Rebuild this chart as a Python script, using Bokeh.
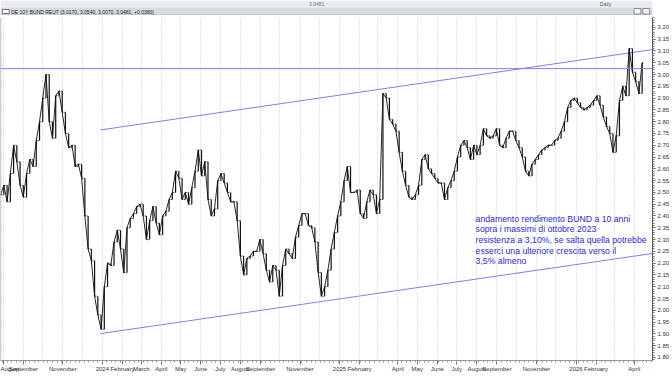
import numpy as np
import pandas as pd
from bokeh.plotting import figure
from bokeh.layouts import column
from bokeh.models import (FixedTicker, SingleIntervalTicker, PrintfTickFormatter,
                          Range1d, ColumnDataSource, Span)
from bokeh.core.properties import value
from bokeh.embed import file_html
from bokeh.resources import INLINE

# ---------------- data ----------------
series_name = "DE 10Y BUND REUT"
start_date = "2023-07-28"
step = "5D"
close = [
    2.49, 2.53, 2.46, 2.58, 2.70, 2.63, 2.53, 2.48, 2.58, 2.64,
    2.61, 2.72, 2.80, 2.90, 3.00, 2.80, 2.73, 2.91, 2.93, 2.84,
    2.75, 2.69, 2.70, 2.61, 2.62, 2.56, 2.40, 2.26, 2.21, 2.06,
    1.98, 1.92, 2.10, 2.20, 2.19, 2.29, 2.34, 2.26, 2.16, 2.35,
    2.39, 2.41, 2.44, 2.45, 2.40, 2.30, 2.38, 2.44, 2.37, 2.32,
    2.40, 2.42, 2.47, 2.50, 2.59, 2.56, 2.47, 2.50, 2.45, 2.52,
    2.59, 2.68, 2.57, 2.63, 2.47, 2.40, 2.43, 2.55, 2.58, 2.54,
    2.50, 2.46, 2.46, 2.38, 2.23, 2.15, 2.22, 2.23, 2.25, 2.25,
    2.30, 2.24, 2.17, 2.12, 2.19, 2.17, 2.06, 2.19, 2.26, 2.24,
    2.22, 2.31, 2.36, 2.41, 2.41, 2.36, 2.35, 2.29, 2.16, 2.06,
    2.10, 2.17, 2.26, 2.33, 2.40, 2.46, 2.55, 2.61, 2.50, 2.50,
    2.51, 2.41, 2.39, 2.46, 2.51, 2.49, 2.41, 2.47, 2.92, 2.90,
    2.81, 2.79, 2.76, 2.67, 2.59, 2.53, 2.48, 2.47, 2.49, 2.53,
    2.64, 2.66, 2.60, 2.58, 2.56, 2.54, 2.54, 2.47, 2.52, 2.55,
    2.59, 2.65, 2.70, 2.72, 2.69, 2.64, 2.70, 2.66, 2.70, 2.77,
    2.74, 2.73, 2.74, 2.77, 2.70, 2.69, 2.73, 2.76, 2.76, 2.72,
    2.69, 2.65, 2.59, 2.57, 2.62, 2.64, 2.66, 2.68, 2.69, 2.70,
    2.70, 2.72, 2.73, 2.76, 2.80, 2.86, 2.89, 2.90, 2.88, 2.86,
    2.85, 2.86, 2.87, 2.89, 2.91, 2.87, 2.82, 2.78, 2.75, 2.67,
    2.74, 2.89, 2.95, 2.91, 3.11, 3.01, 2.97, 2.92, 3.05,
]
last_ohlc = [3.0170, 3.0540, 3.0070, 3.0481]
last_change = 0.0380

resistance = 3.025
channel_dates = ["2023-12-29", "2026-04-29"]
channel_upper = [2.765, 3.106]
channel_lower = [1.901, 2.241]

month_labels = [
    ("2023-08-01", "August"), ("2023-09-01", "September"), ("2023-11-01", "November"),
    ("2024-01-01", "2024"), ("2024-02-01", "February"), ("2024-03-01", "March"),
    ("2024-04-01", "April"), ("2024-05-01", "May"), ("2024-06-01", "June"),
    ("2024-07-01", "July"), ("2024-08-01", "August"), ("2024-09-01", "September"),
    ("2024-11-01", "November"), ("2025-01-01", "2025"), ("2025-02-01", "February"),
    ("2025-04-01", "April"), ("2025-05-01", "May"), ("2025-06-01", "June"),
    ("2025-07-01", "July"), ("2025-08-01", "August"), ("2025-09-01", "September"),
    ("2025-11-01", "November"), ("2026-01-01", "2026"), ("2026-02-01", "February"),
    ("2026-04-01", "April"),
]

note_lines = [
    "andamento rendimento BUND a 10 anni",
    "sopra i massimi di ottobre 2023",
    "resistenza a 3,10%, se salta quella potrebbe",
    "esserci una ulteriore crescita verso il",
    "3,5% almeno",
]

# ---------------- build ----------------
def ms(d):
    return float(pd.Timestamp(d).value // 10**6)

dates = pd.date_range(start_date, periods=len(close), freq=step)
c = np.array(close)
o = np.concatenate([[c[0]], c[:-1]])
src = ColumnDataSource(dict(date=dates, close=c, open=o,
                            lo=np.minimum(o, c), hi=np.maximum(o, c),
                            date_r=dates + pd.Timedelta(days=2),
                            date_l=dates - pd.Timedelta(days=2)))

FONT = "Liberation Sans"
x_start = pd.Timestamp("2023-07-27 19:00")

p = figure(x_axis_type="datetime", y_axis_location="right",
           width=672, height=363,
           x_range=Range1d(x_start, pd.Timestamp("2026-04-29")),
           y_range=Range1d(1.787, 3.242),
           output_backend="svg", toolbar_location=None,
           min_border_left=0, min_border_top=2, min_border_right=19, min_border_bottom=18)
p.outline_line_color = None
p.background_fill_color = "white"

# grids
all_months = pd.date_range("2023-08-01", "2026-04-01", freq="MS")
p.xgrid.ticker = FixedTicker(ticks=[ms(d) for d in all_months])
p.xgrid.grid_line_color = "#c8c8c8"
p.xgrid.grid_line_dash = "1 2"
p.ygrid.grid_line_color = None

# x axis
weeks = pd.date_range("2023-07-31", "2026-04-27", freq="W-MON")
xa = p.xaxis[0]
xa.ticker = FixedTicker(ticks=[ms(d) for d, _ in month_labels],
                        minor_ticks=[ms(d) for d in weeks])
xa.major_label_overrides = {ms(d): lab for d, lab in month_labels}
xa.major_label_text_align = "left"
xa.major_label_text_font = FONT
xa.major_label_text_font_size = "6px"
xa.major_label_text_color = "#333333"
xa.major_label_standoff = 1
xa.major_tick_in = 0
xa.major_tick_out = 4
xa.minor_tick_in = 0
xa.minor_tick_out = 2
xa.axis_line_color = "#999999"
xa.major_tick_line_color = "#777777"
xa.minor_tick_line_color = "#999999"

# y axis
ya = p.yaxis[0]
ya.ticker = SingleIntervalTicker(interval=0.05, num_minor_ticks=5)
ya.formatter = PrintfTickFormatter(format="%.2f")
ya.major_label_text_font = FONT
ya.major_label_text_font_size = "6px"
ya.major_label_text_color = "#333333"
ya.major_label_standoff = 2
ya.major_tick_in = 0
ya.major_tick_out = 3
ya.minor_tick_in = 0
ya.minor_tick_out = 2
ya.axis_line_color = "#555555"
ya.major_tick_line_color = "#555555"
ya.minor_tick_line_color = "#777777"

# left window border
p.add_layout(Span(location=ms(x_start), dimension="height", line_color="#a0a0a0", line_width=1.5))

# trend lines
p.add_layout(Span(location=resistance, dimension="width", line_color="#8080e0", line_width=1))
cd = pd.to_datetime(channel_dates)
p.line(cd, channel_upper, line_color="#8080e0", line_width=1)
p.line(cd, channel_lower, line_color="#8080e0", line_width=1)

# price bars
p.segment(x0="date", y0="lo", x1="date", y1="hi", source=src, line_color="#111111", line_width=1.2)
p.segment(x0="date", y0="close", x1="date_r", y1="close", source=src, line_color="#222222", line_width=1)
p.segment(x0="date_l", y0="open", x1="date", y1="open", source=src, line_color="#555555", line_width=1)
p.line("date", "close", source=src, line_color="#111111", line_width=0.9)

# annotation
note_x = pd.Timestamp("2025-07-30")
note_top = 2.389
note_step = 0.0454
p.text(x=[note_x] * len(note_lines),
       y=[note_top - i * note_step for i in range(len(note_lines))],
       text=note_lines, text_font=value(FONT), text_font_size="8.7px",
       text_color="#2a2ad0", text_baseline="middle", text_align="left")

# ---------------- header ----------------
h = figure(width=672, height=15, x_range=(0, 672), y_range=(0, 15),
           x_axis_location=None, y_axis_location=None,
           output_backend="svg", toolbar_location=None, min_border=0)
h.outline_line_color = None
h.grid.visible = False
h.quad(left=[0, 0], right=[672, 672], bottom=[8, 0], top=[15, 8],
       fill_color=["#e9edf2", "#d5dbe2"], line_color=None)
h.line([0, 672], [0.5, 0.5], line_color="#b0b8c0", line_width=1)
h.quad(left=[2], right=[9], bottom=[2], top=[6], fill_color="white", line_color="#555555", line_width=0.8)
header_text = "%s (%.4f, %.4f, %.4f, %.4f, +%.4f)" % ((series_name,) + tuple(last_ohlc) + (last_change,))
h.text(x=[11], y=[4], text=[header_text], text_font=value(FONT), text_font_size="5px",
       text_color="#222222", text_baseline="middle")
h.text(x=[618], y=[11.5], text=["Daily"], text_font=value(FONT), text_font_size="5px",
       text_color="#555555", text_baseline="middle")
h.text(x=[318], y=[11.5], text=["%.4f" % last_ohlc[3]], text_font=value(FONT), text_font_size="5px",
       text_color="#777777", text_baseline="middle")
h.quad(left=[653, 662], right=[660, 669], bottom=[1.5, 1.5], top=[7, 7],
       fill_color="#f4f4f4", line_color="#666666", line_width=0.7)

layout = column(h, p, spacing=0)
open("out.html", "w").write(file_html(layout, INLINE))
